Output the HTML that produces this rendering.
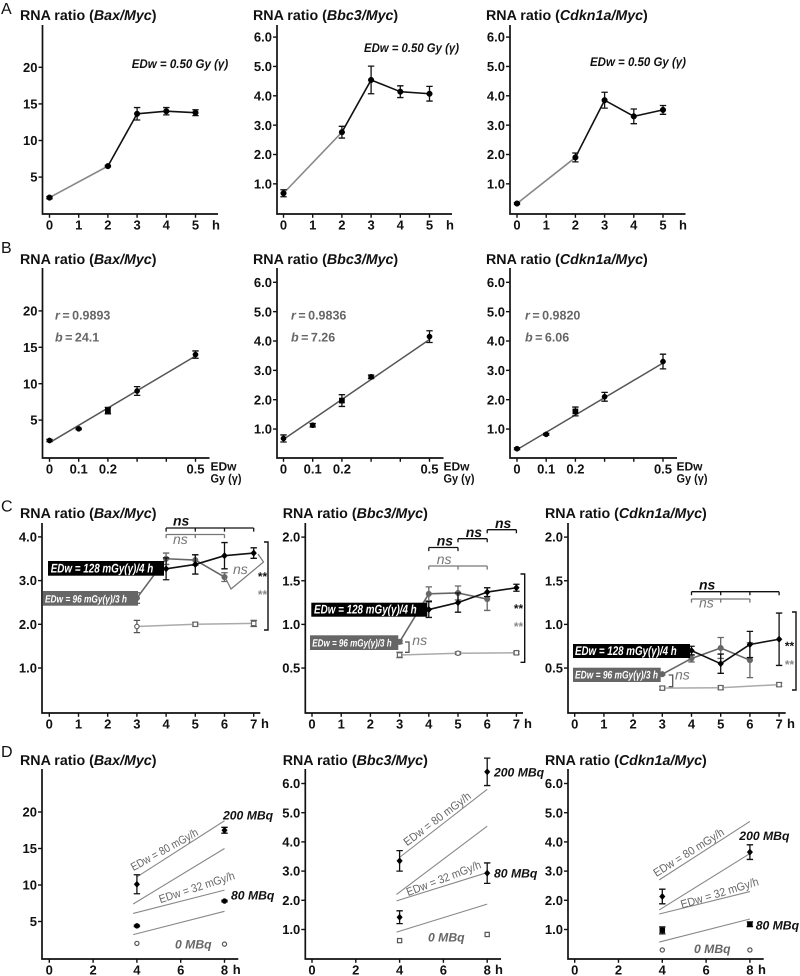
<!DOCTYPE html>
<html lang="en">
<head>
<meta charset="utf-8">
<title>RNA ratio charts</title>
<style>
html,body{margin:0;padding:0;background:#fff;}
svg{display:block;filter:blur(0.3px);}
text{font-family:"Liberation Sans",Arial,sans-serif;text-rendering:geometricPrecision;}
.title{font-size:14.25px;font-weight:bold;fill:#111;}
.letter{font-size:16px;fill:#111;}
.tl{font-size:13px;font-weight:bold;fill:#111;}
.unit{font-size:12px;font-weight:bold;fill:#111;}
.ann{font-size:12.5px;font-weight:bold;font-style:italic;fill:#111;}
.stat{font-size:12.5px;font-weight:bold;fill:#666;word-spacing:-1px;}
.box{font-weight:bold;font-style:italic;fill:#fff;}
.nsb{font-size:14px;font-weight:bold;font-style:italic;fill:#111;}
.nsg{font-size:14px;font-style:italic;fill:#777;}
.stb{font-size:12px;font-weight:bold;font-style:italic;fill:#111;}
.stg{font-size:12px;font-weight:bold;font-style:italic;fill:#888;}
.dose{font-size:11.5px;font-style:normal;fill:#666;}
.mbq{font-size:12.2px;font-weight:bold;font-style:italic;fill:#111;}
.mbg{font-size:12.2px;font-weight:bold;font-style:italic;fill:#666;}
</style>
</head>
<body>
<svg id="figure" xmlns="http://www.w3.org/2000/svg" width="800" height="976" viewBox="0 0 800 976">
  <rect width="800" height="976" fill="#fff"/>
  <g id="marks"></g>

  <g>
    <text class="letter" x="1" y="14">A</text>
    <text class="letter" x="1" y="253">B</text>
    <text class="letter" x="1" y="511.5">C</text>
    <text class="letter" x="1" y="757">D</text>
  </g>

  <g>
    <text class="title" x="20" y="20">RNA ratio (<tspan font-style="italic">Bax/Myc</tspan>)</text>
    <text class="title" x="253" y="20">RNA ratio (<tspan font-style="italic">Bbc3/Myc</tspan>)</text>
    <text class="title" x="486" y="20">RNA ratio (<tspan font-style="italic">Cdkn1a/Myc</tspan>)</text>
    <text class="title" x="20" y="264">RNA ratio (<tspan font-style="italic">Bax/Myc</tspan>)</text>
    <text class="title" x="253" y="264">RNA ratio (<tspan font-style="italic">Bbc3/Myc</tspan>)</text>
    <text class="title" x="486" y="264">RNA ratio (<tspan font-style="italic">Cdkn1a/Myc</tspan>)</text>
    <text class="title" x="20" y="518">RNA ratio (<tspan font-style="italic">Bax/Myc</tspan>)</text>
    <text class="title" x="282.7" y="518">RNA ratio (<tspan font-style="italic">Bbc3/Myc</tspan>)</text>
    <text class="title" x="545" y="518">RNA ratio (<tspan font-style="italic">Cdkn1a/Myc</tspan>)</text>
    <text class="title" x="20" y="765">RNA ratio (<tspan font-style="italic">Bax/Myc</tspan>)</text>
    <text class="title" x="282.7" y="765">RNA ratio (<tspan font-style="italic">Bbc3/Myc</tspan>)</text>
    <text class="title" x="545" y="765">RNA ratio (<tspan font-style="italic">Cdkn1a/Myc</tspan>)</text>
  </g>

  <g>
    <text class="tl" x="216" y="229.5" text-anchor="middle">h</text>
    <text class="tl" x="450" y="229.5" text-anchor="middle">h</text>
    <text class="tl" x="683" y="229.5" text-anchor="middle">h</text>
    <text class="unit" x="210.5" y="470.7">EDw</text>
    <text class="unit" x="210.5" y="482.5" textLength="31" lengthAdjust="spacingAndGlyphs">Gy (γ)</text>
    <text class="unit" x="443.5" y="470.7">EDw</text>
    <text class="unit" x="443.5" y="482.5" textLength="31" lengthAdjust="spacingAndGlyphs">Gy (γ)</text>
    <text class="unit" x="676.5" y="470.7">EDw</text>
    <text class="unit" x="676.5" y="482.5" textLength="31" lengthAdjust="spacingAndGlyphs">Gy (γ)</text>
    <text class="tl" x="265" y="728" text-anchor="middle">h</text>
    <text class="tl" x="528" y="728" text-anchor="middle">h</text>
    <text class="tl" x="791" y="728" text-anchor="middle">h</text>
    <text class="tl" x="236.7" y="974" text-anchor="middle">h</text>
    <text class="tl" x="499" y="974" text-anchor="middle">h</text>
    <text class="tl" x="762" y="974" text-anchor="middle">h</text>
  </g>

  <g>
    <text class="ann" x="131.7" y="68" textLength="96.5" lengthAdjust="spacingAndGlyphs">EDw = 0.50 Gy (γ)</text>
    <text class="ann" x="364" y="52" textLength="95" lengthAdjust="spacingAndGlyphs">EDw = 0.50 Gy (γ)</text>
    <text class="ann" x="590" y="66" textLength="96" lengthAdjust="spacingAndGlyphs">EDw = 0.50 Gy (γ)</text>
  </g>

  <g>
    <text class="stat" x="55" y="319.5"><tspan font-style="italic">r</tspan> = 0.9893</text>
    <text class="stat" x="55" y="341.5"><tspan font-style="italic">b</tspan> = 24.1</text>
    <text class="stat" x="291" y="319.5"><tspan font-style="italic">r</tspan> = 0.9836</text>
    <text class="stat" x="291" y="341.5"><tspan font-style="italic">b</tspan> = 7.26</text>
    <text class="stat" x="525" y="319.5"><tspan font-style="italic">r</tspan> = 0.9820</text>
    <text class="stat" x="525" y="341.5"><tspan font-style="italic">b</tspan> = 6.06</text>
  </g>

  <g>
    <rect x="48" y="561" width="116" height="14.7" fill="#000"/>
    <text class="box" font-size="12.5" x="50.7" y="572.5" textLength="102.6" lengthAdjust="spacingAndGlyphs">EDw = 128 mGy(γ)/4 h</text>
    <rect x="43" y="591" width="95" height="14.7" fill="#666"/>
    <text class="box" font-size="10.5" x="45" y="602.3" textLength="82" lengthAdjust="spacingAndGlyphs">EDw = 96 mGy(γ)/3 h</text>

    <rect x="311.3" y="602.7" width="116" height="14" fill="#000"/>
    <text class="box" font-size="12.5" x="314" y="613.5" textLength="102.7" lengthAdjust="spacingAndGlyphs">EDw = 128 mGy(γ)/4 h</text>
    <rect x="310" y="635.3" width="88.3" height="14.7" fill="#666"/>
    <text class="box" font-size="10.5" x="312.3" y="646.3" textLength="79.4" lengthAdjust="spacingAndGlyphs">EDw = 96 mGy(γ)/3 h</text>

    <rect x="573" y="644" width="117" height="14" fill="#000"/>
    <text class="box" font-size="12.5" x="575" y="655" textLength="101.7" lengthAdjust="spacingAndGlyphs">EDw = 128 mGy(γ)/4 h</text>
    <rect x="573" y="667.7" width="87.7" height="14.3" fill="#666"/>
    <text class="box" font-size="11" x="575" y="678.5" textLength="83" lengthAdjust="spacingAndGlyphs">EDw = 96 mGy(γ)/3 h</text>
  </g>

  <g fill="none">
    <path d="M225 577L231 589L263.5 562L258 554" stroke="#777" stroke-width="1.2"/>
    <path d="M264 542H268V630H264" stroke="#111" stroke-width="1.4"/>
    <path d="M405 642H409V652.3H405" stroke="#555" stroke-width="1.3"/>
    <path d="M520.5 574H524.7V662.3H520.5" stroke="#111" stroke-width="1.4"/>
    <path d="M668.7 675H672.7V686.7H668.7" stroke="#555" stroke-width="1.3"/>
    <path d="M792 612H796V690H792" stroke="#111" stroke-width="1.4"/>
    <text class="nsb" x="173" y="525.7">ns</text>
    <text class="nsg" x="173" y="544">ns</text>
    <text class="nsg" x="233" y="574">ns</text>
    <text class="stb" x="262" y="580.5" text-anchor="middle">**</text>
    <text class="stg" x="262" y="598.5" text-anchor="middle">**</text>
    <text class="nsb" x="436.7" y="545.7">ns</text>
    <text class="nsb" x="465.7" y="537">ns</text>
    <text class="nsb" x="495" y="528">ns</text>
    <text class="nsg" x="436.7" y="564">ns</text>
    <text class="nsg" x="412.3" y="645">ns</text>
    <text class="stb" x="518" y="612.5" text-anchor="middle">**</text>
    <text class="stg" x="518" y="630.5" text-anchor="middle">**</text>
    <text class="nsb" x="699" y="589.7">ns</text>
    <text class="nsg" x="699" y="607.7">ns</text>
    <text class="nsg" x="675" y="679.3">ns</text>
    <text class="stb" x="789" y="650" text-anchor="middle">**</text>
    <text class="stg" x="789" y="668.5" text-anchor="middle">**</text>
  </g>

  <g>
    <text class="dose" transform="translate(166.3 853) rotate(-29)" text-anchor="middle" textLength="75" lengthAdjust="spacingAndGlyphs">EDw = 80 mGy/h</text>
    <text class="dose" transform="translate(198 891) rotate(-18)" text-anchor="middle" textLength="79" lengthAdjust="spacingAndGlyphs">EDw = 32 mGy/h</text>
    <text class="mbq" x="223" y="819.5">200 MBq</text>
    <text class="mbq" x="231" y="899.5">80 MBq</text>
    <text class="mbg" x="175" y="948.5">0 MBq</text>

    <text class="dose" transform="translate(439.5 822) rotate(-37)" text-anchor="middle" textLength="81" lengthAdjust="spacingAndGlyphs">EDw = 80 mGy/h</text>
    <text class="dose" transform="translate(445 882) rotate(-21)" text-anchor="middle" textLength="79" lengthAdjust="spacingAndGlyphs">EDw = 32 mGy/h</text>
    <text class="mbq" x="494" y="776.5">200 MBq</text>
    <text class="mbq" x="494" y="877.5">80 MBq</text>
    <text class="mbg" x="428" y="941.5">0 MBq</text>

    <text class="dose" transform="translate(690.7 855.7) rotate(-32)" text-anchor="middle" textLength="81" lengthAdjust="spacingAndGlyphs">EDw = 80 mGy/h</text>
    <text class="dose" transform="translate(720.7 896.7) rotate(-17)" text-anchor="middle" textLength="81" lengthAdjust="spacingAndGlyphs">EDw = 32 mGy/h</text>
    <text class="mbq" x="739.3" y="840">200 MBq</text>
    <text class="mbq" x="755.7" y="929.5">80 MBq</text>
    <text class="mbg" x="694" y="953">0 MBq</text>
  </g>
</svg>

<script>
// ---------- Axis tick values and labels ----------
const hoursA = [0, 1, 2, 3, 4, 5];
const hoursALabels = ["0", "1", "2", "3", "4", "5"];
const gyTicks = [0, 0.1, 0.2, 0.3, 0.4, 0.5];
const gyLabels = ["0", "0.1", "0.2", "", "", "0.5"];
const hoursC = [0, 1, 2, 3, 4, 5, 6, 7];
const hoursCLabels = ["0", "1", "2", "3", "4", "5", "6", "7"];
const hoursD = [0, 2, 4, 6, 8];
const hoursDLabels = ["0", "2", "4", "6", "8"];
const ticksBax = [5, 10, 15, 20];
const ticksBaxLabels = ["5", "10", "15", "20"];
const ticksSix = [1, 2, 3, 4, 5, 6];
const ticksSixLabels = ["1.0", "2.0", "3.0", "4.0", "5.0", "6.0"];
const ticksCBax = [1, 2, 3, 4];
const ticksCBaxLabels = ["1.0", "2.0", "3.0", "4.0"];
const ticksCTwo = [0.5, 1, 1.5, 2];
const ticksCTwoLabels = ["0.5", "1.0", "1.5", "2.0"];

// ---------- Row A: time course after 0.50 Gy ----------
const timeA = [0, 2, 3, 4, 5];
const aBax = [2.2, 6.5, 13.65, 14.0, 13.8];
const aBaxErr = [0.15, 0.1, 0.85, 0.5, 0.4];
const aBbc3 = [0.68, 2.76, 4.54, 4.14, 4.07];
const aBbc3Err = [0.12, 0.2, 0.47, 0.2, 0.25];
const aCdkn1a = [0.33, 1.9, 3.85, 3.3, 3.52];
const aCdkn1aErr = [0.03, 0.15, 0.27, 0.25, 0.15];

// ---------- Row B: dose response ----------
const doseB = [0, 0.1, 0.2, 0.3, 0.5];
const bBax = [2.2, 3.8, 6.3, 9.0, 14.0];
const bBaxErr = [0.15, 0.1, 0.45, 0.6, 0.5];
const bBbc3 = [0.68, 1.13, 1.97, 2.78, 4.15];
const bBbc3Err = [0.12, 0.06, 0.2, 0.06, 0.2];
const bCdkn1a = [0.33, 0.82, 1.6, 2.1, 3.3];
const bCdkn1aErr = [0.03, 0.03, 0.15, 0.15, 0.25];
const fitDose = [0, 0.5];
const fitBax = [1.9, 13.8];
const fitBbc3 = [0.65, 4.05];
const fitCdkn1a = [0.3, 3.25];
const bMarkers = ["circle", "circle", "square", "circle", "circle"];

// ---------- Row C: protracted dose ----------
const time128 = [4, 5, 6, 7];
const time96 = [3, 4, 5, 6];
const timeCtrl = [3, 5, 7];
const cBax128 = [3.27, 3.37, 3.57, 3.63];
const cBax128Err = [0.25, 0.22, 0.3, 0.12];
const cBax96 = [2.6, 3.5, 3.47, 3.08];
const cBax96Err = [0.12, 0.13, 0.12, 0.1];
const cBaxCtrl = [1.95, 2.0, 2.02];
const cBaxCtrlErr = [0.14, 0.04, 0.07];
const cBbc3128 = [1.17, 1.25, 1.37, 1.42];
const cBbc3128Err = [0.09, 0.11, 0.05, 0.04];
const cBbc396 = [0.8, 1.35, 1.36, 1.29];
const cBbc396Err = [0.02, 0.08, 0.08, 0.13];
const cBbc3Ctrl = [0.65, 0.67, 0.675];
const cBbc3CtrlErr = [0.03, 0.015, 0.015];
const cCdkn1a128 = [0.7, 0.55, 0.77, 0.83];
const cCdkn1a128Err = [0.05, 0.11, 0.15, 0.3];
const cCdkn1a96 = [0.43, 0.61, 0.73, 0.59];
const cCdkn1a96Err = [0.01, 0.04, 0.12, 0.2];
const cCdkn1aCtrl = [0.27, 0.275, 0.31];
const cCdkn1aCtrlErr = [0.02, 0.02, 0.02];

// ---------- Row D: radionuclide dose ----------
const timeD = [4, 8];
const dBax200 = [10.1, 17.5];
const dBax200Err = [1.3, 0.4];
const dBax80 = [4.4, 7.8];
const dBax80Err = [0.1, 0.1];
const dBax0 = [2.0, 1.9];
const dBbc3200 = [3.35, 6.4];
const dBbc3200Err = [0.35, 0.47];
const dBbc380 = [1.42, 2.93];
const dBbc380Err = [0.22, 0.35];
const dBbc30 = [0.62, 0.83];
const dCdkn1a200 = [2.13, 3.65];
const dCdkn1a200Err = [0.25, 0.25];
const dCdkn1a80 = [0.97, 1.18];
const dCdkn1a80Err = [0.12, 0.08];
const dCdkn1a0 = [0.3, 0.3];
const dBaxEdw80Hi = [11.1, 18.8];
const dBaxEdw80Lo = [7.4, 15.0];
const dBaxEdw32Hi = [6.1, 9.3];
const dBaxEdw32Lo = [3.2, 6.4];
const dBbc3Edw80Hi = [3.47, 5.8];
const dBbc3Edw80Lo = [2.2, 4.54];
const dBbc3Edw32Hi = [1.98, 2.95];
const dBbc3Edw32Lo = [0.91, 1.87];
const dCdkn1aEdw80Hi = [2.7, 4.7];
const dCdkn1aEdw80Lo = [1.67, 3.6];
const dCdkn1aEdw32Hi = [1.53, 2.3];
const dCdkn1aEdw32Lo = [0.57, 1.36];

// ---------- Drawing helpers ----------
const NS = "http://www.w3.org/2000/svg";
const root = document.getElementById("marks");

function mk(tag, name, parent) {
  const el = document.createElementNS(NS, tag);
  
  
  (parent || root).appendChild(el);
  return el;
}
function setA(el, o) { for (const k in o) el.setAttribute(k, o[k]); return el; }

function panel(id, g) {
  const p = {
    id: id,
    sx: v => g.x0 + v * g.kx,
    sy: v => g.y0 - v * g.ky,
    g: mk("g", id + "-plot")
  };
  const axes = mk("g", id + "-axes", p.g);
  const yAxis = mk("path", id + "-y-axis", axes);
  setA(yAxis, { d: "M" + g.ax + " " + g.top + "V" + g.axisY + "H" + g.xEnd, fill: "none", stroke: "#111", "stroke-width": 1.7 });
  g.xTicks.forEach((v, i) => {
    const t = mk("line", id + "-x-tick", axes);
    setA(t, { x1: p.sx(v), x2: p.sx(v), y1: g.axisY, y2: g.axisY + 3.8, stroke: "#111", "stroke-width": 1.4 });
    if (g.xLabels[i]) {
      const l = mk("text", id + "-x-tick-label", axes);
      setA(l, { class: "tl", x: p.sx(v), y: g.axisY + 15.5, "text-anchor": "middle" });
      l.textContent = g.xLabels[i];
    }
  });
  g.yTicks.forEach((v, i) => {
    const t = mk("line", id + "-y-tick", axes);
    setA(t, { x1: g.ax - 4, x2: g.ax, y1: p.sy(v), y2: p.sy(v), stroke: "#111", "stroke-width": 1.4 });
    const l = mk("text", id + "-y-tick-label", axes);
    setA(l, { class: "tl", x: g.ax - 5, y: p.sy(v) + 4.6, "text-anchor": "end" });
    l.textContent = g.yLabels[i];
  });
  return p;
}

function line(p, xs, ys, color, width, name, firstColor) {
  for (let i = 0; i < xs.length - 1; i++) {
    const s = mk("line", p.id + "-" + name + "-segment", p.g);
    setA(s, { x1: p.sx(xs[i]), y1: p.sy(ys[i]), x2: p.sx(xs[i + 1]), y2: p.sy(ys[i + 1]),
      stroke: (i === 0 && firstColor) ? firstColor : color, "stroke-width": width });
  }
}
function errors(p, xs, ys, errs, color, name) {
  xs.forEach((x, i) => {
    const px = p.sx(x), hi = p.sy(ys[i] + errs[i]), lo = p.sy(ys[i] - errs[i]);
    const e = mk("path", p.id + "-" + name + "-error-bar", p.g);
    setA(e, { d: "M" + (px - 3.2) + " " + hi + "H" + (px + 3.2) + "M" + px + " " + hi + "V" + lo +
      "M" + (px - 3.2) + " " + lo + "H" + (px + 3.2), fill: "none", stroke: color, "stroke-width": 1.3 });
  });
}
function markers(p, xs, ys, kinds, stroke, fill, name, r) {
  xs.forEach((x, i) => {
    const px = p.sx(x), py = p.sy(ys[i]);
    const kind = Array.isArray(kinds) ? kinds[i] : kinds;
    let m;
    if (kind === "circle") {
      m = mk("circle", p.id + "-" + name + "-point", p.g);
      setA(m, { cx: px, cy: py, r: r });
    } else if (kind === "square") {
      m = mk("rect", p.id + "-" + name + "-point", p.g);
      setA(m, { x: px - r, y: py - r, width: 2 * r, height: 2 * r });
    } else {
      m = mk("path", p.id + "-" + name + "-point", p.g);
      setA(m, { d: "M" + px + " " + (py - r - 0.7) + "L" + (px + r + 0.3) + " " + py + "L" + px + " " + (py + r + 0.7) + "L" + (px - r - 0.3) + " " + py + "Z" });
    }
    setA(m, { fill: fill, stroke: stroke, "stroke-width": fill === "#fff" ? 1.2 : 0.5 });
  });
}
function bracket(p, ticks, yPx, color, name) {
  const from = p.sx(ticks[0]), to = p.sx(ticks[ticks.length - 1]);
  let d = "M" + from + " " + yPx + "H" + to;
  ticks.forEach(t => { d += "M" + p.sx(t) + " " + yPx + "v3.6"; });
  const b = mk("path", p.id + "-" + name, p.g);
  setA(b, { d: d, fill: "none", stroke: color, "stroke-width": 1.3 });
}

// ---------- Panel geometry ----------
const colA = [42.5, 277, 510];
const colA0 = [49.5, 283.5, 517];
const colC = [42, 305.3, 568];
const colC0 = [49.3, 312, 574.7];

function drawRowA() {
  const sets = [
    ["a-bax", aBax, aBaxErr, ticksBax, ticksBaxLabels, 7.32, 213.7],
    ["a-bbc3", aBbc3, aBbc3Err, ticksSix, ticksSixLabels, 29.35, 213.2],
    ["a-cdkn1a", aCdkn1a, aCdkn1aErr, ticksSix, ticksSixLabels, 29.35, 213.2]
  ];
  sets.forEach((s, c) => {
    const p = panel(s[0], { ax: colA[c], x0: colA0[c], kx: 29.2, y0: s[6], ky: s[5], axisY: 214, top: 25,
      xEnd: colA0[c] + 168.5, xTicks: hoursA, xLabels: hoursALabels, yTicks: s[3], yLabels: s[4] });
    line(p, timeA, s[1], "#111", 1.6, "series", "#888");
    errors(p, timeA, s[1], s[2], "#111", "series");
    markers(p, timeA, s[1], "circle", "#000", "#000", "series", 2.8);
  });
}

function drawRowB() {
  const sets = [
    ["b-bax", bBax, bBaxErr, fitBax, ticksBax, ticksBaxLabels, 7.28, 456.5],
    ["b-bbc3", bBbc3, bBbc3Err, fitBbc3, ticksSix, ticksSixLabels, 29.35, 458.4],
    ["b-cdkn1a", bCdkn1a, bCdkn1aErr, fitCdkn1a, ticksSix, ticksSixLabels, 29.35, 458.4]
  ];
  sets.forEach((s, c) => {
    const p = panel(s[0], { ax: colA[c], x0: colA0[c], kx: 292, y0: s[7], ky: s[6], axisY: 458, top: 268,
      xEnd: colA0[c] + 160, xTicks: gyTicks, xLabels: gyLabels, yTicks: s[4], yLabels: s[5] });
    line(p, fitDose, s[3], "#555", 1.5, "fit");
    errors(p, doseB, s[1], s[2], "#111", "series");
    markers(p, doseB, s[1], bMarkers, "#000", "#000", "series", 2.6);
  });
}

function drawRowC() {
  const sets = [
    ["c-bax", cBax128, cBax128Err, cBax96, cBax96Err, cBaxCtrl, cBaxCtrlErr, ticksCBax, ticksCBaxLabels, 43.7, ["circle", "square", "square"]],
    ["c-bbc3", cBbc3128, cBbc3128Err, cBbc396, cBbc396Err, cBbc3Ctrl, cBbc3CtrlErr, ticksCTwo, ticksCTwoLabels, 87.3, ["square", "circle", "square"]],
    ["c-cdkn1a", cCdkn1a128, cCdkn1a128Err, cCdkn1a96, cCdkn1a96Err, cCdkn1aCtrl, cCdkn1aCtrlErr, ticksCTwo, ticksCTwoLabels, 87.3, ["square", "square", "square"]]
  ];
  const ps = sets.map((s, c) => {
    const p = panel(s[0], { ax: colC[c], x0: colC0[c], kx: 29.2, y0: 711.7, ky: s[9], axisY: 713, top: 523,
      xEnd: colC0[c] + 211, xTicks: hoursC, xLabels: hoursCLabels, yTicks: s[7], yLabels: s[8] });
    line(p, timeCtrl, s[5], "#aaa", 1.5, "control");
    errors(p, timeCtrl, s[5], s[6], "#555", "control");
    markers(p, timeCtrl, s[5], s[10], "#666", "#fff", "control", 2.2);
    line(p, time96, s[3], "#666", 1.6, "edw-96");
    errors(p, time96, s[3], s[4], "#666", "edw-96");
    markers(p, time96, s[3], "circle", "#666", "#666", "edw-96", 2.8);
    line(p, time128, s[1], "#111", 1.6, "edw-128");
    errors(p, time128, s[1], s[2], "#111", "edw-128");
    markers(p, time128, s[1], "diamond", "#000", "#000", "edw-128", 2.6);
    return p;
  });
  bracket(ps[0], [4, 5, 6, 7], 528, "#111", "ns-bracket-black");
  bracket(ps[0], [4, 5, 6], 534.5, "#777", "ns-bracket-grey");
  bracket(ps[1], [4, 5], 547.5, "#111", "ns-bracket-black-1");
  bracket(ps[1], [5, 6], 538.7, "#111", "ns-bracket-black-2");
  bracket(ps[1], [6, 7], 529.7, "#111", "ns-bracket-black-3");
  bracket(ps[1], [4, 5, 6], 566, "#777", "ns-bracket-grey");
  bracket(ps[2], [4, 5, 6, 7], 591.7, "#111", "ns-bracket-black");
  bracket(ps[2], [4, 5, 6], 599, "#777", "ns-bracket-grey");
}

function drawRowD() {
  const sets = [
    ["d-bax", dBax200, dBax200Err, "diamond", dBax80, dBax80Err, "circle", dBax0, "circle", dBaxEdw80Hi, dBaxEdw80Lo, dBaxEdw32Hi, dBaxEdw32Lo, ticksBax, ticksBaxLabels, 7.3, 958, 3.83, 4],
    ["d-bbc3", dBbc3200, dBbc3200Err, "diamond", dBbc380, dBbc380Err, "diamond", dBbc30, "square", dBbc3Edw80Hi, dBbc3Edw80Lo, dBbc3Edw32Hi, dBbc3Edw32Lo, ticksSix, ticksSixLabels, 29.2, 958.7, 3.86, 4],
    ["d-cdkn1a", dCdkn1a200, dCdkn1a200Err, "diamond", dCdkn1a80, dCdkn1a80Err, "square", dCdkn1a0, "circle", dCdkn1aEdw80Hi, dCdkn1aEdw80Lo, dCdkn1aEdw32Hi, dCdkn1aEdw32Lo, ticksSix, ticksSixLabels, 29.2, 958.7, 3.86, 3.86]
  ];
  sets.forEach((s, c) => {
    const p = panel(s[0], { ax: colC[c], x0: colC0[c], kx: 21.9, y0: s[16], ky: s[15], axisY: 959, top: 769,
      xEnd: colC0[c] + 189, xTicks: hoursD, xLabels: hoursDLabels, yTicks: s[13], yLabels: s[14] });
    line(p, [s[18], 8], s[9], "#888", 1.1, "edw-80-upper");
    line(p, [s[17], 8], s[10], "#888", 1.1, "edw-80-lower");
    line(p, [s[17], 8], s[11], "#888", 1.1, "edw-32-upper");
    line(p, [s[17], 8], s[12], "#888", 1.1, "edw-32-lower");
    errors(p, timeD, s[1], s[2], "#111", "dose-200");
    markers(p, timeD, s[1], s[3], "#000", "#000", "dose-200", 2.5);
    errors(p, timeD, s[4], s[5], "#111", "dose-80");
    markers(p, timeD, s[4], s[6], "#000", "#000", "dose-80", 2.5);
    markers(p, timeD, s[7], s[8], "#555", "#fff", "dose-0", 2.1);
  });
}

drawRowA();
drawRowB();
drawRowC();
drawRowD();
</script>
</body>
</html>
